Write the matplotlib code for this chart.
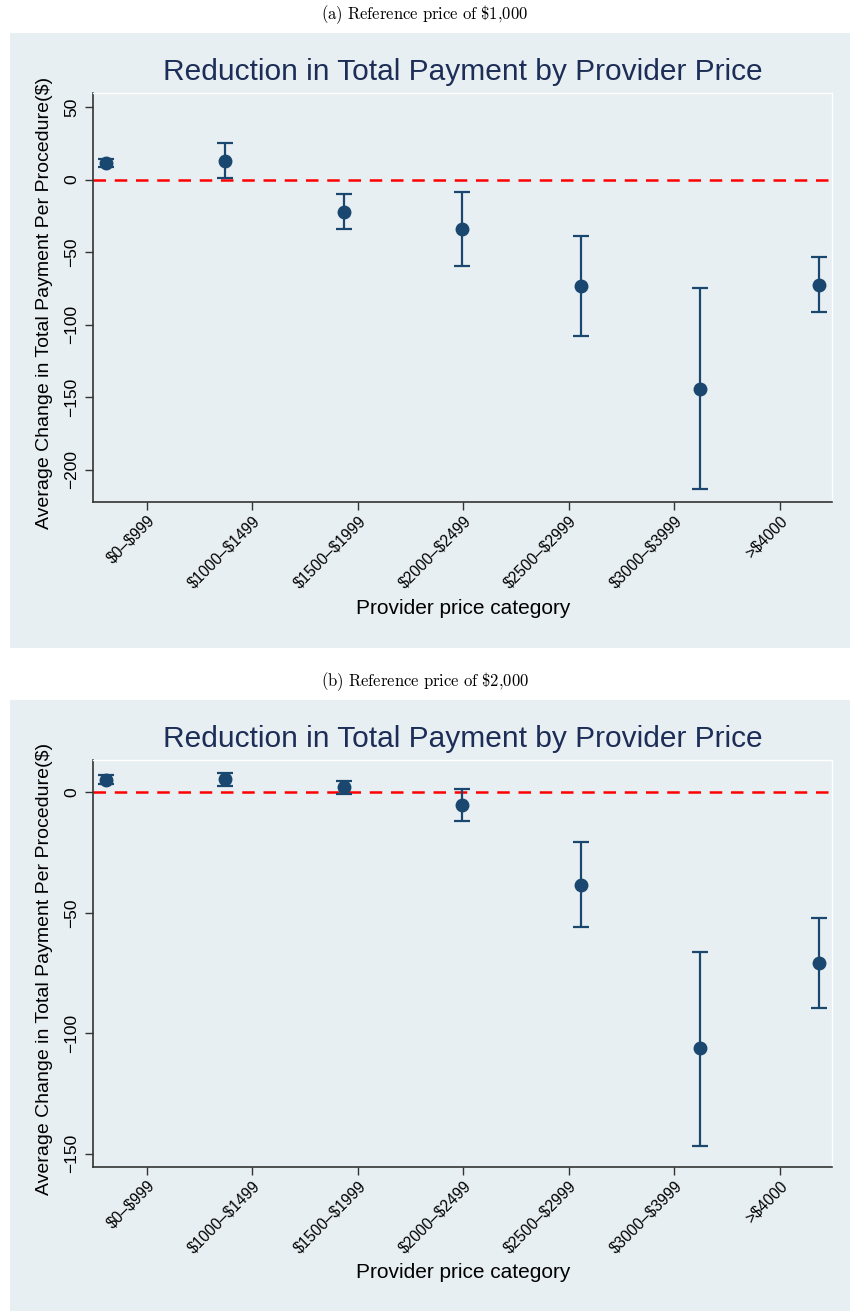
import matplotlib
matplotlib.use("Agg")
import matplotlib.pyplot as plt
import numpy as np
from matplotlib.patches import Rectangle

plt.rcParams['font.family'] = ['Liberation Sans', 'DejaVu Sans']
plt.rcParams['mathtext.fontset'] = 'cm'

# data
categories = ["$0–$999", "$1000–$1499", "$1500–$1999", "$2000–$2499",
              "$2500–$2999", "$3000–$3999", ">$4000"]

# (a) reference price $1,000
coef_a = [11.2, 13.0, -22.4, -34.1, -73.6, -144.3, -72.6]
upper_a = [14.0, 25.0, -10.0, -8.4, -39.0, -74.8, -53.4]
lower_a = [8.5, 1.2, -34.3, -59.9, -108.1, -213.4, -91.4]

# (b) reference price $2,000
coef_b = [5.1, 5.5, 2.1, -5.4, -38.4, -106.3, -70.7]
upper_b = [7.0, 8.1, 4.7, 1.2, -20.7, -66.2, -52.1]
lower_b = [3.3, 2.7, -0.7, -12.1, -55.9, -146.6, -89.4]

W, H = 850, 1311
BG = '#e8eff2'
NAVY = '#1a476f'

fig = plt.figure(figsize=(W / 100, H / 100), dpi=100)


def fx(px):
    return px / W


def fy(py):
    return 1 - py / H


def panel(top, bottom, bg_top, bg_bottom, cap_y, caption, coef, up, lo, ylim, yticks):
    # grey-blue graph region, behind the axes
    fig.patches.append(Rectangle((fx(10), fy(bg_bottom)), fx(840), (bg_bottom - bg_top) / H,
                                 transform=fig.transFigure, facecolor=BG, edgecolor='none', zorder=-5))
    fig.text(0.5, fy(cap_y), caption, ha='center', va='center', fontsize=12)

    ax = fig.add_axes([fx(93), fy(bottom), fx(832 - 93), (bottom - top) / H])
    ax.set_facecolor(BG)
    x = np.arange(1, len(coef) + 1)
    coef = np.array(coef)
    yerr = [coef - np.array(lo), np.array(up) - coef]
    ax.axhline(0, color='red', lw=1.8, ls=(0, (5, 3.5)), zorder=1)
    ax.errorbar(x, coef, yerr=yerr, fmt='o', color=NAVY, ms=9, elinewidth=1.6,
                capsize=5.5, capthick=1.6, zorder=3)

    ax.set_xlim(0.891, 7.11)
    ax.set_ylim(*ylim)
    ax.set_yticks(yticks)
    ax.set_yticklabels([str(v).replace('-', '\u2212') for v in yticks], rotation=90,
                       va='center', fontsize=12.5)
    ax.set_xticks(np.linspace(1.345, 6.672, len(categories)))
    ax.set_xticklabels(categories, rotation=45, ha='right', rotation_mode='anchor',
                       fontsize=11.2, parse_math=False)
    ax.tick_params(direction='out', length=6, width=1, color='#333333', pad=4)
    ax.tick_params(axis='x', pad=2)

    for s in ['top', 'right']:
        ax.spines[s].set_color('white')
        ax.spines[s].set_linewidth(1)
    for s in ['left', 'bottom']:
        ax.spines[s].set_color('#333333')
        ax.spines[s].set_linewidth(1.2)

    fig.text(fx(463), fy(top - 21), "Reduction in Total Payment by Provider Price",
             ha='center', va='center', fontsize=21.5, color='#1c2d57')
    fig.text(fx(463), fy(bottom + 106), "Provider price category",
             ha='center', va='center', fontsize=15)
    fig.text(fx(45), fy((top + bottom) / 2 + 5), "Average Change in Total Payment Per Procedure($)",
             ha='center', va='center', rotation=90, fontsize=14, parse_math=False)
    return ax


panel(93, 502, 33, 648, 15, r'$\mathrm{(a)\ Reference\ price\ of\ \$1{,}000}$',
      coef_a, upper_a, lower_a, (-222.4, 59.7), [-200, -150, -100, -50, 0, 50])
panel(760, 1167, 700, 1311, 682, r'$\mathrm{(b)\ Reference\ price\ of\ \$2{,}000}$',
      coef_b, upper_b, lower_b, (-155.5, 13.4), [-150, -100, -50, 0])

fig.savefig('out.png', dpi=100, facecolor='white')
